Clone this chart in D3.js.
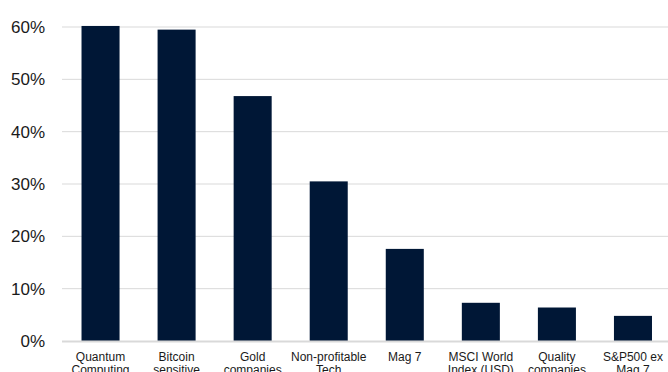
<!DOCTYPE html>
<html>
<head>
<meta charset="utf-8">
<script src="https://cdn.jsdelivr.net/npm/d3@7"></script>
<style>
  body { margin: 0; background: #fff; }
  svg { display: block; font-family: "Liberation Sans", Arial, sans-serif; }
</style>
</head>
<body>
<div class="chart"></div>
<script>
const categories = [
    ["Quantum", "Computing"],
    ["Bitcoin", "sensitive"],
    ["Gold", "companies"],
    ["Non-profitable", "Tech"],
    ["Mag 7"],
    ["MSCI World", "Index (USD)"],
    ["Quality", "companies"],
    ["S&P500 ex", "Mag 7"]
];
const returns = [60.2, 59.5, 46.8, 30.5, 17.6, 7.3, 6.4, 4.8];
const yTicks = [0, 10, 20, 30, 40, 50, 60];

const width = 668;
const height = 372;
const margin = { left: 62, top: 27, bottom: 341 };

const svg = d3.select(".chart").append("svg")
    .attr("width", width)
    .attr("height", height);

const keys = categories.map(d => d.join(" "));

const x = d3.scaleBand()
    .domain(keys)
    .range([62.5, 671])
    .paddingInner(0.5)
    .paddingOuter(0.25);

const y = d3.scaleLinear()
    .domain([0, 60])
    .range([margin.bottom, margin.top]);

// gridlines
svg.append("g")
    .selectAll("line")
    .data(yTicks.filter(d => d > 0))
    .enter()
    .append("line")
    .attr("x1", margin.left)
    .attr("x2", width)
    .attr("y1", d => y(d))
    .attr("y2", d => y(d))
    .attr("stroke", "#d9d9d9")
    .attr("stroke-width", 1);

// y labels
svg.append("g")
    .selectAll("text")
    .data(yTicks)
    .enter()
    .append("text")
    .attr("x", 45)
    .attr("y", d => y(d))
    .attr("dy", "0.36em")
    .attr("text-anchor", "end")
    .attr("font-size", 17)
    .attr("fill", "#1a1a1a")
    .text(d => d + "%");

// bars
svg.append("g")
    .selectAll("rect")
    .data(returns)
    .enter()
    .append("rect")
    .attr("x", (d, i) => x(keys[i]))
    .attr("width", x.bandwidth())
    .attr("y", d => y(d))
    .attr("height", d => y(0) - y(d))
    .attr("fill", "#001736");

// baseline
svg.append("line")
    .attr("x1", margin.left)
    .attr("x2", width)
    .attr("y1", y(0) + 0.5)
    .attr("y2", y(0) + 0.5)
    .attr("stroke", "#d9d9d9")
    .attr("stroke-width", 2);

// category labels
const lbl = svg.append("g")
    .selectAll("text")
    .data(categories)
    .enter()
    .append("text")
    .attr("x", (d, i) => x(keys[i]) + x.bandwidth() / 2)
    .attr("y", 360.5)
    .attr("text-anchor", "middle")
    .attr("font-size", 12)
    .attr("fill", "#1a1a1a");

lbl.selectAll("tspan")
    .data(d => d)
    .enter()
    .append("tspan")
    .attr("x", function () { return d3.select(this.parentNode).attr("x"); })
    .attr("dy", (d, i) => i === 0 ? 0 : 13.5)
    .text(d => d);
</script>
</body>
</html>
